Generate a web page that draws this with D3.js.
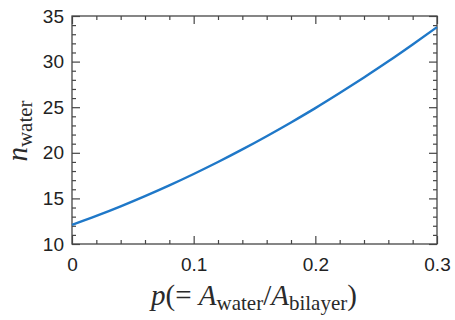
<!DOCTYPE html>
<html><head><meta charset="utf-8">
<script src="https://cdn.jsdelivr.net/npm/d3@7"></script>
<style>body{margin:0;background:#fff}</style>
</head><body>
<svg id="c" width="455" height="320"></svg>
<script>
const pValues = [0,0.02,0.04,0.06,0.08,0.10,0.12,0.14,0.16,0.18,0.20,0.22,0.24,0.26,0.28,0.30];
const nWater = [12.1,13.08,14.13,15.25,16.43,17.68,18.99,20.37,21.82,23.33,24.90,26.55,28.26,30.03,31.88,33.78];
const xMajor = [0,0.1,0.2,0.3];
const xMinor = [0.02,0.04,0.06,0.08,0.12,0.14,0.16,0.18,0.22,0.24,0.26,0.28];
const yMajor = [10,15,20,25,30,35];
const yMinor = d3.range(11,35).filter(v=>v%5!==0);

const svg = d3.select("#c");
const L=72,R=437,T=16,B=244;
const x = d3.scaleLinear().domain([0,0.3]).range([L,R]);
const y = d3.scaleLinear().domain([10,35]).range([B,T]);
const axisColor="#454545";
const font="'Liberation Sans', Arial, sans-serif";

function styleAxis(g){
  g.select(".domain").remove();
  g.selectAll("line").attr("stroke",axisColor).attr("stroke-width",1.2);
  g.selectAll("text").attr("fill","#222").style("font-family",font).style("font-size","19px");
}
// bottom
svg.append("g").attr("transform",`translate(0,${B})`)
  .call(d3.axisBottom(x).tickValues(xMajor).tickSize(-8).tickPadding(14).tickFormat(d=>d===0?"0":d3.format(".1f")(d))).call(styleAxis);
svg.append("g").attr("transform",`translate(0,${B})`)
  .call(d3.axisBottom(x).tickValues(xMinor).tickSize(-4).tickFormat("")).call(styleAxis);
// top
svg.append("g").attr("transform",`translate(0,${T})`)
  .call(d3.axisTop(x).tickValues(xMajor).tickSize(-8).tickFormat("")).call(styleAxis);
svg.append("g").attr("transform",`translate(0,${T})`)
  .call(d3.axisTop(x).tickValues(xMinor).tickSize(-4).tickFormat("")).call(styleAxis);
// left
svg.append("g").attr("transform",`translate(${L},0)`)
  .call(d3.axisLeft(y).tickValues(yMajor).tickSize(-8).tickPadding(8)).call(styleAxis);
svg.append("g").attr("transform",`translate(${L},0)`)
  .call(d3.axisLeft(y).tickValues(yMinor).tickSize(-4).tickFormat("")).call(styleAxis);
// right
svg.append("g").attr("transform",`translate(${R},0)`)
  .call(d3.axisRight(y).tickValues(yMajor).tickSize(-8).tickFormat("")).call(styleAxis);
svg.append("g").attr("transform",`translate(${R},0)`)
  .call(d3.axisRight(y).tickValues(yMinor).tickSize(-4).tickFormat("")).call(styleAxis);

// box
svg.append("rect").attr("x",L).attr("y",T).attr("width",R-L).attr("height",B-T)
  .attr("fill","none").attr("stroke",axisColor).attr("stroke-width",1.3);

// line
const line = d3.line().x((d,i)=>x(pValues[i])).y(d=>y(d)).curve(d3.curveMonotoneX);
svg.append("path").datum(nWater).attr("d",line).attr("fill","none")
  .attr("stroke","#1f78c8").attr("stroke-width",2.4);

// x title
const serif="'Liberation Serif','DejaVu Serif',serif";
const xt = svg.append("text").attr("x",254).attr("y",305).attr("text-anchor","middle")
  .attr("xml:space","preserve")
  .style("font-family",serif).style("font-size","29px").attr("fill","#2a2a2a");
xt.append("tspan").style("font-style","italic").text("p");
xt.append("tspan").text("(= ");
xt.append("tspan").style("font-style","italic").text("A");
xt.append("tspan").attr("dy",5).style("font-size","21px").text("water");
xt.append("tspan").attr("dy",-5).text("/");
xt.append("tspan").style("font-style","italic").text("A");
xt.append("tspan").attr("dy",5).style("font-size","21px").text("bilayer");
xt.append("tspan").attr("dy",-5).text(")");

// y title
const yt = svg.append("text").attr("transform","translate(27,131) rotate(-90)").attr("text-anchor","middle")
  .style("font-family",serif).style("font-size","29px").attr("fill","#2a2a2a");
yt.append("tspan").style("font-style","italic").text("n");
yt.append("tspan").attr("dy",5).style("font-size","21px").text("water");
</script>
</body></html>
